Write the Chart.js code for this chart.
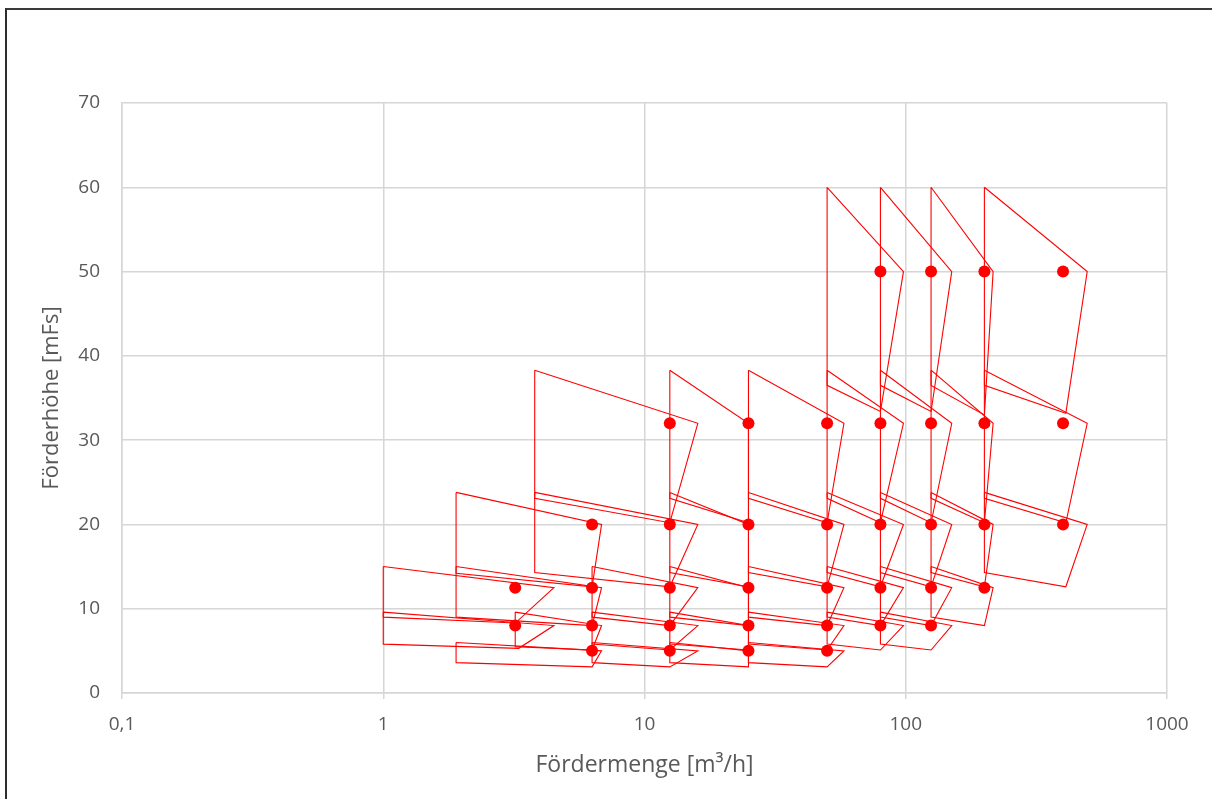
<!DOCTYPE html>
<html>
<head>
<meta charset="utf-8">
<script src="https://cdn.jsdelivr.net/npm/chart.js@4.4.1/dist/chart.umd.min.js"></script>
<style>
  html, body { margin: 0; padding: 0; background: #fff; overflow: hidden; }
  #wrap { position: relative; width: 1212px; height: 799px; }
  #frame {
    position: absolute; left: 5px; top: 8px; width: 1230px; height: 820px;
    border-left: 2px solid #2e2e2e; border-top: 2px solid #3a3a3a;
    pointer-events: none;
  }
</style>
</head>
<body>
<div id="wrap">
  <canvas id="pumpChart" width="1212" height="799"></canvas>
  <div id="frame"></div>
</div>
<script>
// Nennpunkte (Fördermenge m3/h, Förderhöhe m)
const pumpQ = [
  3.2, 3.2,
  6.3, 6.3, 6.3, 6.3,
  12.5, 12.5, 12.5, 12.5, 12.5,
  25, 25, 25, 25, 25,
  50, 50, 50, 50, 50,
  80, 80, 80, 80, 80,
  125, 125, 125, 125, 125,
  200, 200, 200, 200,
  400, 400, 400
];
const pumpH = [
  12.5, 8,
  20, 12.5, 8, 5,
  32, 20, 12.5, 8, 5,
  32, 20, 12.5, 8, 5,
  32, 20, 12.5, 8, 5,
  50, 32, 20, 12.5, 8,
  50, 32, 20, 12.5, 8,
  50, 32, 20, 12.5,
  50, 32, 20
];

// Kennfeld-Eckpunkte je Pumpe
const fieldQLeft = [
  1, 1,
  1.9, 1.9, 3.2, 1.9,
  3.8, 3.8, 6.3, 6.3, 6.3,
  12.5, 12.5, 12.5, 12.5, 12.5,
  25, 25, 25, 25, 25,
  50, 50, 50, 50, 50,
  80, 80, 80, 80, 80,
  125, 125, 125, 125,
  200, 200, 200
];
const fieldQRight = [
  4.5, 4.5,
  6.85, 6.85, 6.85, 6.85,
  16, 16, 16, 16, 16,
  25, 25, 25, 25, 25,
  58, 58, 58, 58, 58,
  98, 98, 98, 98, 98,
  150, 150, 150, 150, 150,
  216, 216, 216, 216,
  495, 495, 495
];
const fieldQBottom = [
  3.2, 3.3,
  6.3, 6.3, 6.3, 6.3,
  12.5, 12.5, 12.5, 12.5, 12.5,
  25, 25, 25, 25, 25,
  50, 50, 50, 50, 50,
  80, 80, 80, 80, 80,
  125, 125, 125, 125, 125,
  200, 200, 200, 200,
  410, 410, 410
];
const fieldHTop = [
  15, 9.6,
  23.8, 15, 9.6, 6,
  38.3, 23.8, 15, 9.6, 6,
  38.3, 23.8, 15, 9.6, 6,
  38.3, 23.8, 15, 9.6, 6,
  60, 38.3, 23.8, 15, 9.6,
  60, 38.3, 23.8, 15, 9.6,
  60, 38.3, 23.8, 15,
  60, 38.3, 23.8
];
const fieldHBottomRight = [
  8.3, 5.3,
  12.6, 8, 5.1, 3.1,
  20.2, 12.6, 8, 5.1, 3.1,
  20.2, 12.6, 8, 5.1, 3.1,
  20.2, 12.6, 8, 5.1, 3.1,
  33.4, 20.2, 12.6, 8, 5.1,
  33.4, 20.2, 12.6, 8, 5.1,
  33, 20.2, 12.6, 8,
  33.2, 20.2, 12.6
];
const fieldHBottomLeft = [
  9, 5.8,
  14.2, 9, 5.5, 3.6,
  23.1, 14.3, 9, 5.8, 3.6,
  23.1, 14.3, 9, 5.8, 3.6,
  23.1, 14.3, 9, 5.8, 3.6,
  36.5, 23.1, 14.3, 9, 5.8,
  36.5, 23.1, 14.3, 9, 5.8,
  36.5, 23.1, 14.3, 9,
  36.5, 23.1, 14.3
];

const xTicks = [0.1, 1, 10, 100, 1000];
const yTicks = [0, 10, 20, 30, 40, 50, 60, 70];

const red = "#ff0000";
const textColor = "#595959";
const gridColor = "#d6d6d6";
const fontFamily = "'Open Sans', 'Liberation Sans', sans-serif";

// one outline dataset per pump field
const fieldDatasets = pumpQ.map((q, i) => ({
  data: [
    { x: fieldQLeft[i], y: fieldHTop[i] },
    { x: fieldQRight[i], y: pumpH[i] },
    { x: fieldQBottom[i], y: fieldHBottomRight[i] },
    { x: fieldQLeft[i], y: fieldHBottomLeft[i] },
    { x: fieldQLeft[i], y: fieldHTop[i] },
  ],
  showLine: true,
  borderColor: red,
  borderWidth: 1.1,
  pointRadius: 0,
  tension: 0,
  order: 1,
}));

const pointDataset = {
  data: pumpQ.map((q, i) => ({ x: q, y: pumpH[i] })),
  showLine: false,
  backgroundColor: red,
  borderColor: red,
  borderWidth: 0,
  pointRadius: 6,
  order: 0,
};

new Chart(document.getElementById("pumpChart"), {
  type: "scatter",
  data: { datasets: [pointDataset, ...fieldDatasets] },
  options: {
    responsive: false,
    animation: false,
    layout: { padding: { left: 38.2, top: 103, right: 45, bottom: 20.2 } },
    plugins: { legend: { display: false }, tooltip: { enabled: false } },
    scales: {
      x: {
        type: "logarithmic",
        min: 0.1,
        max: 1000,
        afterBuildTicks: (scale) => {
          scale.ticks = xTicks.map((v) => ({ value: v }));
        },
        afterFit: (scale) => {
          scale.height = 85.8;
        },
        ticks: {
          autoSkip: false,
          maxRotation: 0,
          padding: 14,
          color: textColor,
          font: { family: fontFamily, size: 19 },
          callback: (v) => String(v).replace(".", ","),
        },
        grid: { color: gridColor, lineWidth: 1.5, tickLength: 6 },
        border: { color: gridColor, width: 1.5 },
        title: {
          display: true,
          text: "Fördermenge [m³/h]",
          color: textColor,
          font: { family: fontFamily, size: 23 },
          padding: 0,
        },
      },
      y: {
        min: 0,
        max: 70,
        afterBuildTicks: (scale) => {
          scale.ticks = yTicks.map((v) => ({ value: v }));
        },
        afterFit: (scale) => {
          scale.width = 83.8;
        },
        ticks: {
          padding: 22,
          color: textColor,
          font: { family: fontFamily, size: 19 },
        },
        grid: { color: gridColor, lineWidth: 1.5, drawTicks: false },
        border: { color: gridColor, width: 1.5 },
        title: {
          display: true,
          text: "Förderhöhe [mFs]",
          color: textColor,
          font: { family: fontFamily, size: 22 },
          padding: 0,
        },
      },
    },
  },
});
</script>
</body>
</html>
